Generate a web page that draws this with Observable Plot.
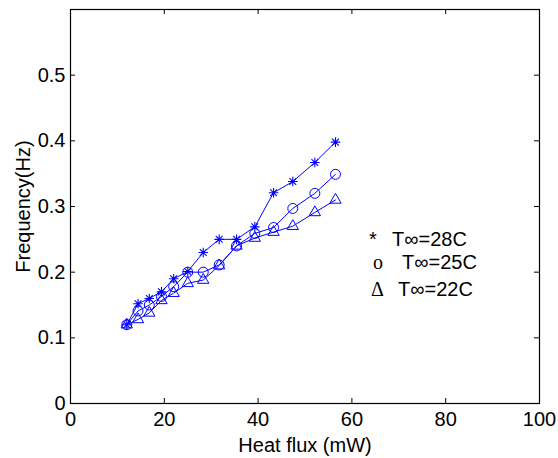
<!DOCTYPE html>
<html>
<head>
<meta charset="utf-8">
<script src="https://cdn.jsdelivr.net/npm/d3@7"></script>
<script src="https://cdn.jsdelivr.net/npm/@observablehq/plot@0.6"></script>
<style>
  html, body { margin: 0; padding: 0; background: #fff; }
  #wrap { position: relative; width: 558px; height: 458px; font-family: "Liberation Sans", Arial, sans-serif; }
  .lg { position: absolute; font-size: 20px; line-height: 20px; color: #000; white-space: nowrap; }
  .sym { font-family: "Liberation Serif", "Times New Roman", serif; }
</style>
</head>
<body>
<div id="wrap"></div>
<script>
// ---- data ----
const heatFlux = [12.0, 14.4, 16.8, 19.4, 22.0, 25.0, 28.3, 31.7, 35.4, 39.3, 43.3, 47.4, 52.1, 56.5];
const freq28 = [0.120, 0.152, 0.160, 0.170, 0.190, 0.201, 0.230, 0.250, 0.250, 0.269, 0.321, 0.338, 0.367, 0.398];
const freq25 = [0.120, 0.141, 0.150, 0.163, 0.178, 0.200, 0.200, 0.211, 0.240, 0.259, 0.268, 0.297, 0.320, 0.349];
const freq22 = [0.120, 0.128, 0.138, 0.157, 0.168, 0.183, 0.188, 0.210, 0.240, 0.252, 0.261, 0.270, 0.291, 0.310];
const xTicks = [0, 20, 40, 60, 80, 100];
const yTicks = [0, 0.1, 0.2, 0.3, 0.4, 0.5];
const legendSymbols = ["*", "o", "\u0394"];
const legendLabels = ["T\u221E=28C", "T\u221E=25C", "T\u221E=22C"];

const mk = (ys) => heatFlux.map((x, i) => ({x, y: ys[i]}));
const s28 = mk(freq28), s25 = mk(freq25), s22 = mk(freq22);

const star8 = {
  draw(ctx, size) {
    const r = Math.sqrt(size / Math.PI);
    for (let i = 0; i < 4; i++) {
      const a = i * Math.PI / 4;
      const dx = r * Math.cos(a), dy = r * Math.sin(a);
      ctx.moveTo(-dx, -dy); ctx.lineTo(dx, dy);
    }
  }
};

const blue = "#0000ff";
const frameH = 458 - 9 - 55;
const frameW = 558 - 70 - 19;

const chart = Plot.plot({
  width: 558, height: 458,
  marginLeft: 70, marginRight: 19, marginTop: 9, marginBottom: 55,
  x: {domain: [0, 100]},
  y: {domain: [0, 0.6]},
  style: {fontFamily: "'Liberation Sans', Arial, sans-serif", fontSize: "20px", color: "#000", background: "#fff", overflow: "visible"},
  marks: [
    Plot.axisX(xTicks, {tickSize: 0, tickPadding: 8, fontSize: 20, label: "Heat flux (mW)", labelAnchor: "center", labelOffset: 48, labelArrow: "none"}),
    Plot.axisY(yTicks, {tickSize: 0, tickPadding: 5, fontSize: 20, tickFormat: d => d === 0 ? "0" : d.toFixed(1), label: "Frequency(Hz)", labelAnchor: "center", labelOffset: 55, labelArrow: "none"}),
    Plot.tickX(xTicks, {x: d => d, insetTop: frameH - 5, stroke: "#000"}),
    Plot.tickX(xTicks, {x: d => d, insetBottom: frameH - 5, stroke: "#000"}),
    Plot.tickY(yTicks, {y: d => d, insetRight: frameW - 5, stroke: "#000"}),
    Plot.tickY(yTicks, {y: d => d, insetLeft: frameW - 5, stroke: "#000"}),
    Plot.line(s28, {x: "x", y: "y", stroke: blue, strokeWidth: 1}),
    Plot.line(s25, {x: "x", y: "y", stroke: blue, strokeWidth: 1}),
    Plot.line(s22, {x: "x", y: "y", stroke: blue, strokeWidth: 1}),
    Plot.dot(s28, {x: "x", y: "y", symbol: star8, r: 4.8, stroke: blue, fill: "none", strokeWidth: 1.1}),
    Plot.dot(s25, {x: "x", y: "y", symbol: "circle", r: 5, stroke: blue, fill: "none", strokeWidth: 1}),
    Plot.dot(s22, {x: "x", y: "y", symbol: "triangle", r: 4.2, stroke: blue, fill: "none", strokeWidth: 1}),
    Plot.frame({stroke: "#000", strokeWidth: 1.2})
  ]
});
const wrap = document.getElementById("wrap");
wrap.appendChild(chart);

// legend text (annotation inside the axes)
const legendLayout = [
  {symLeft: 369, txtLeft: 392, top: 229},
  {symLeft: 373, txtLeft: 402, top: 252},
  {symLeft: 371, txtLeft: 398, top: 279}
];
legendLabels.forEach((lab, i) => {
  const L = legendLayout[i];
  const s = document.createElement("div");
  s.className = "lg sym"; s.style.left = L.symLeft + "px"; s.style.top = L.top + "px";
  if (i === 0) s.style.fontFamily = "'Liberation Sans', Arial, sans-serif";
  s.textContent = legendSymbols[i];
  wrap.appendChild(s);
  const t = document.createElement("div");
  t.className = "lg"; t.style.left = L.txtLeft + "px"; t.style.top = L.top + "px";
  t.textContent = lab;
  wrap.appendChild(t);
});
</script>
</body>
</html>
